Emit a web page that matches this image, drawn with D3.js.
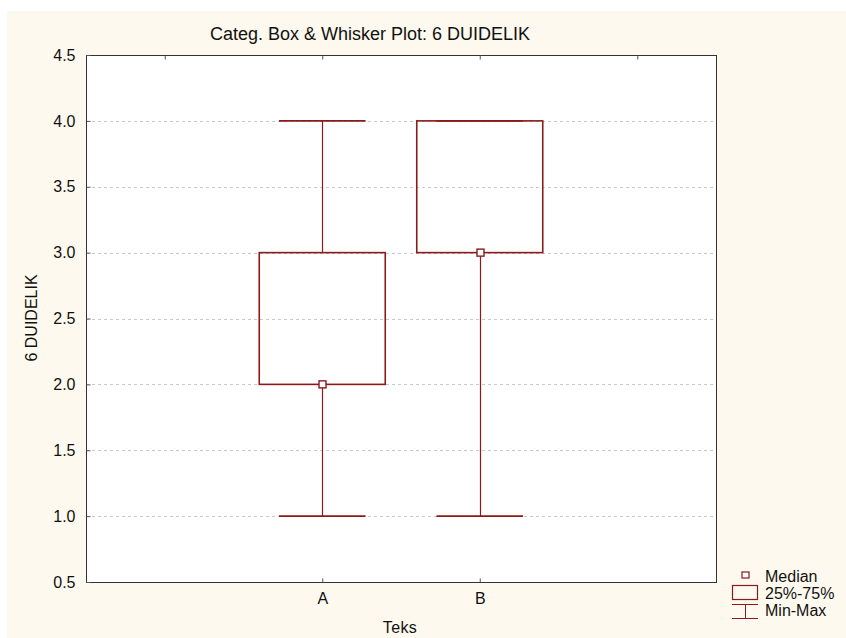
<!DOCTYPE html>
<html>
<head>
<meta charset="utf-8">
<script src="https://cdn.jsdelivr.net/npm/d3@7"></script>
<style>
  html, body { margin: 0; padding: 0; background: #ffffff; }
  svg { display: block; }
  text { font-family: "Liberation Sans", Arial, sans-serif; fill: #111; }
</style>
</head>
<body>
<svg id="chart" width="846" height="638"></svg>
<script>
// Box & whisker summary per category
const categories = ["A", "B"];
const minValues    = [1, 1];
const q1Values     = [2, 3];
const medianValues = [2, 3];
const q3Values     = [3, 4];
const maxValues    = [4, 4];
const yTicks = [0.5, 1.0, 1.5, 2.0, 2.5, 3.0, 3.5, 4.0, 4.5];
const gridTicks = [1.0, 1.5, 2.0, 2.5, 3.0, 3.5, 4.0];
const legendLabels = ["Median", "25%-75%", "Min-Max"];

const stroke = "#8b1a1a";
const svg = d3.select("#chart");

// Cream page panel
svg.append("rect").attr("x", 7).attr("y", 11).attr("width", 839).attr("height", 627)
  .attr("fill", "#fdf9ee");

const plot = { left: 86, right: 716, top: 55, bottom: 582 };

const x = d3.scaleLinear().domain([-0.5, 3.5]).range([plot.left, plot.right]);
const y = d3.scaleLinear().domain([0.5, 4.5]).range([plot.bottom, plot.top]);

// Plot background
svg.append("rect")
  .attr("x", plot.left).attr("y", plot.top)
  .attr("width", plot.right - plot.left).attr("height", plot.bottom - plot.top)
  .attr("fill", "#ffffff");

// Horizontal dashed gridlines
svg.append("g").selectAll("line").data(gridTicks).join("line")
  .attr("x1", plot.left).attr("x2", plot.right)
  .attr("y1", d => Math.round(y(d)) + 0.5).attr("y2", d => Math.round(y(d)) + 0.5)
  .attr("stroke", "#c8c8c8").attr("stroke-dasharray", "3,3");

// Frame
svg.append("rect")
  .attr("x", plot.left + 0.5).attr("y", plot.top + 0.5)
  .attr("width", plot.right - plot.left).attr("height", plot.bottom - plot.top)
  .attr("fill", "none").attr("stroke", "#333").attr("stroke-width", 1);

// Y axis (ticks pointing inward)
const yAxis = d3.axisLeft(y).tickValues(yTicks).tickFormat(d3.format(".1f")).tickSize(-4).tickPadding(11);
const gy = svg.append("g").attr("transform", `translate(${plot.left + 0.5},0)`).call(yAxis);
gy.select(".domain").remove();
gy.selectAll(".tick line").attr("stroke", "#555");
gy.selectAll("text").attr("font-size", 16).attr("font-family", "Liberation Sans, Arial, sans-serif").attr("fill", "#111");

// X axis: category ticks along bottom, plain ticks along top
const catIndex = categories.map((c, i) => i + 1);
const xAxis = d3.axisBottom(x).tickValues(catIndex)
  .tickFormat((d, i) => categories[i]).tickSize(-4).tickPadding(10);
const gx = svg.append("g").attr("transform", `translate(0,${plot.bottom + 0.5})`).call(xAxis);
gx.select(".domain").remove();
gx.selectAll(".tick line").attr("stroke", "#555");
gx.selectAll("text").attr("font-size", 16).attr("font-family", "Liberation Sans, Arial, sans-serif").attr("fill", "#111");

const xTop = d3.axisTop(x).tickValues([0, 1, 2, 3]).tickFormat("").tickSize(-4);
const gt = svg.append("g").attr("transform", `translate(0,${plot.top + 0.5})`).call(xTop);
gt.select(".domain").remove();
gt.selectAll(".tick line").attr("stroke", "#555");

// Boxes and whiskers
const boxHalf = 0.4, capHalf = 0.275;
const boxes = svg.append("g").selectAll("g").data(categories).join("g");

boxes.append("line")
  .attr("x1", (d, i) => Math.round(x(i + 1)) + 0.5).attr("x2", (d, i) => Math.round(x(i + 1)) + 0.5)
  .attr("y1", (d, i) => y(maxValues[i])).attr("y2", (d, i) => y(q3Values[i]))
  .attr("stroke", stroke).attr("stroke-width", 1.2);
boxes.append("line")
  .attr("x1", (d, i) => Math.round(x(i + 1)) + 0.5).attr("x2", (d, i) => Math.round(x(i + 1)) + 0.5)
  .attr("y1", (d, i) => y(q1Values[i])).attr("y2", (d, i) => y(minValues[i]))
  .attr("stroke", stroke).attr("stroke-width", 1.2);

[maxValues, minValues].forEach(vals => {
  boxes.append("line")
    .attr("x1", (d, i) => x(i + 1 - capHalf)).attr("x2", (d, i) => x(i + 1 + capHalf))
    .attr("y1", (d, i) => y(vals[i])).attr("y2", (d, i) => y(vals[i]))
    .attr("stroke", stroke).attr("stroke-width", 1.6);
});

boxes.append("rect")
  .attr("x", (d, i) => x(i + 1 - boxHalf))
  .attr("y", (d, i) => y(q3Values[i]))
  .attr("width", (d, i) => x(i + 1 + boxHalf) - x(i + 1 - boxHalf))
  .attr("height", (d, i) => y(q1Values[i]) - y(q3Values[i]))
  .attr("fill", "none").attr("stroke", stroke).attr("stroke-width", 1.6);

boxes.append("rect")
  .attr("x", (d, i) => Math.round(x(i + 1)) - 3)
  .attr("y", (d, i) => y(medianValues[i]) - 3.5)
  .attr("width", 7).attr("height", 7)
  .attr("fill", "#ffffff").attr("stroke", stroke).attr("stroke-width", 1.4);

// Titles
svg.append("text").attr("x", 370).attr("y", 40).attr("text-anchor", "middle")
  .attr("font-size", 18).text("Categ. Box & Whisker Plot: 6 DUIDELIK");
svg.append("text").attr("x", 400).attr("y", 633).attr("text-anchor", "middle")
  .attr("font-size", 16).attr("letter-spacing", 0.4).text("Teks");
svg.append("text").attr("transform", "translate(37,318) rotate(-90)").attr("text-anchor", "middle")
  .attr("font-size", 16).text("6 DUIDELIK");

// Legend
const lg = svg.append("g");
lg.append("rect").attr("x", 742).attr("y", 572).attr("width", 7).attr("height", 6)
  .attr("fill", "#fff").attr("stroke", stroke).attr("stroke-width", 1.2);
lg.append("rect").attr("x", 732.5).attr("y", 585.5).attr("width", 25).attr("height", 14)
  .attr("fill", "none").attr("stroke", stroke).attr("stroke-width", 1.2);
lg.append("line").attr("x1", 732).attr("x2", 758).attr("y1", 604.5).attr("y2", 604.5).attr("stroke", stroke);
lg.append("line").attr("x1", 732).attr("x2", 758).attr("y1", 618.5).attr("y2", 618.5).attr("stroke", stroke);
lg.append("line").attr("x1", 745.5).attr("x2", 745.5).attr("y1", 604.5).attr("y2", 618.5).attr("stroke", stroke);
lg.selectAll("text.lab").data(legendLabels).join("text").attr("class", "lab")
  .attr("x", 765).attr("y", (d, i) => 582 + i * 17)
  .attr("font-size", 16).text(d => d);
</script>
</body>
</html>
